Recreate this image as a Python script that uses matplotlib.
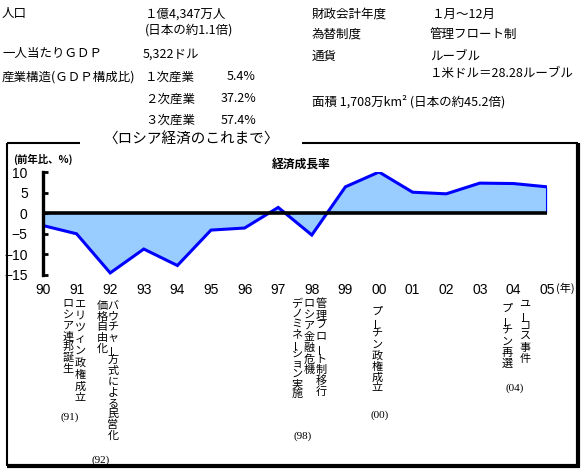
import matplotlib
matplotlib.use("Agg")
import matplotlib.pyplot as plt
from matplotlib.lines import Line2D
import matplotlib.transforms as mtrans

plt.rcParams['font.family'] = ['Noto Sans CJK JP', 'DejaVu Sans']

# ---- data ----
years  = ["90", "91", "92", "93", "94", "95", "96", "97",
          "98", "99", "00", "01", "02", "03", "04", "05"]
growth = [-3.0, -5.0, -14.5, -8.7, -12.7, -4.1, -3.6, 1.4,
          -5.3, 6.4, 10.0, 5.1, 4.7, 7.3, 7.2, 6.4]
y_ticks = [10, 5, 0, -5, -10, -15]

# event notes under the axis (columns read right to left)
ev_91 = ["エリツィン政権成立", "ロシア連邦誕生"]
ev_92 = ["バウチャー方式による民営化", "価格自由化"]
ev_98 = ["管理フロート制移行", "ロシア金融危機", "デノミネーション実施"]
ev_00 = ["プーチン政権成立"]
ev_04 = ["ユーコス事件", "プーチン再選"]

W, H = 587, 476
fig = plt.figure(figsize=(W / 100, H / 100), dpi=100)


def fx(x):
    return x / W


def fy(y):
    return 1 - y / H


def ftext(x, y, s, **kw):
    kw.setdefault("fontsize", 9)
    kw.setdefault("va", "center")
    fig.text(fx(x), fy(y), s, **kw)


# ---- header block ----
ftext(2, 14, "人口")
ftext(145, 14, "１億4,347万人")
ftext(145, 30, "(日本の約1.1倍)")
ftext(2, 54, "一人当たりＧＤＰ")
ftext(143, 54, "5,322ドル")
ftext(2, 77, "産業構造(ＧＤＰ構成比)")
for y, lab, pct in [(77, "１次産業", "5.4%"), (99, "２次産業", "37.2%"),
                    (120, "３次産業", "57.4%")]:
    ftext(145, y, lab)
    ftext(256, y, pct, ha="right")

ftext(312, 14, "財政会計年度")
ftext(432, 14, "１月～12月")
ftext(312, 34, "為替制度")
ftext(430, 34, "管理フロート制")
ftext(312, 56, "通貨")
ftext(430, 56, "ルーブル")
ftext(430, 73, "１米ドル＝28.28ルーブル")
ftext(312, 102, "面積 1,708万km² (日本の約45.2倍)")

ftext(191, 140, "〈ロシア経済のこれまで〉", fontsize=10.5, ha="center")

# ---- frame ----
for (x0, y0, x1, y1, lw) in [(7, 143, 80, 143, 1.5), (302, 143, 578, 143, 1.5),
                              (7, 143, 7, 466, 1.5), (578, 143, 578, 467, 3),
                              (7, 466, 580, 466, 3)]:
    fig.add_artist(Line2D([fx(x0), fx(x1)], [fy(y0), fy(y1)],
                          color="black", lw=lw, solid_capstyle="butt"))

# ---- chart ----
ax = fig.add_axes([fx(43), fy(275), fx(547) - fx(43), fy(172) - fy(275)])
x = list(range(len(years)))
ax.fill_between(x, growth, 0, color="#99CCFF", lw=0)
ax.plot(x, growth, color="#0000FF", lw=2.2, solid_joinstyle="miter")
ax.vlines(x[-1], 0, growth[-1], color="#0000FF", lw=2.2)
ax.axhline(0, color="black", lw=2.6)
ax.set_xlim(0, len(years) - 1)
ax.set_ylim(-15, 10)

for s in ["top", "right", "bottom"]:
    ax.spines[s].set_visible(False)
ax.spines["left"].set_linewidth(2.4)
ax.patch.set_alpha(0)

ax.set_yticks(y_ticks)
ax.set_yticklabels([str(v).replace("-", "−") for v in y_ticks],
                   family="Liberation Sans", fontsize=10)
ax.tick_params(axis="y", direction="in", length=3.5, width=2, pad=11)
ax.set_xticks(x)
ax.set_xticklabels(years, family="Liberation Sans", fontsize=10)
ax.tick_params(axis="x", length=0, pad=6)

trans = mtrans.blended_transform_factory(ax.transData, fig.transFigure)
ax.text(len(years) - 1 + 0.27, fy(288), "(年)", transform=trans,
        fontsize=8, va="center", ha="left", clip_on=False)

ftext(43, 159, "(前年比、%)", fontsize=7.5, ha="center", weight="bold")
ftext(301, 164, "経済成長率", fontsize=8.5, ha="center", weight="bold")


# ---- vertical notes ----
def vtext(xp, y0, s, step=11.0):
    for i, ch in enumerate(s):
        rot = 90 if ch == "ー" else 0
        ftext(xp, y0 + i * step, ch, fontsize=8, ha="center", rotation=rot)


vtext(80, 304, ev_91[0], 11.8)
vtext(68, 304, ev_91[1], 10.8)
vtext(113, 306, ev_92[0], 10.8)
vtext(102, 306, ev_92[1], 10.6)
vtext(321, 304, ev_98[0], 11.0)
vtext(309, 304, ev_98[1], 11.0)
vtext(297, 304, ev_98[2], 10.0)
vtext(377, 312, ev_00[0], 10.9)
vtext(525, 304, ev_04[0], 11.0)
vtext(507, 309, ev_04[1], 11.0)

for xp, yp, lab in [(70, 417, "(91)"), (101, 460, "(92)"), (303, 436, "(98)"),
                    (380, 415, "(00)"), (515, 388, "(04)")]:
    ftext(xp, yp, lab, fontsize=8, ha="center", family="Liberation Serif")

fig.savefig("out.png", dpi=100)
